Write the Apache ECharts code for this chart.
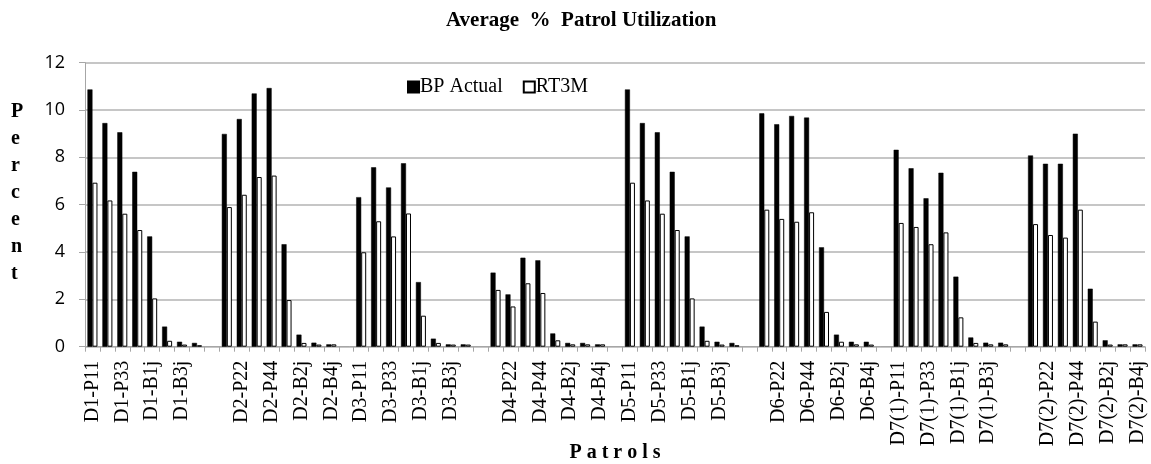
<!DOCTYPE html>
<html>
<head>
<meta charset="utf-8">
<script src="https://cdn.jsdelivr.net/npm/echarts@6/dist/echarts.min.js"></script>
<style>html,body{margin:0;padding:0;background:#fff;}#c{width:1151px;height:464px;}</style>
</head>
<body>
<div id="c"></div>
<script>
var categories = [
  'D1-P11','D1-P22','D1-P33','D1-P44','D1-B1j','D1-B2j','D1-B3j','D1-B4j','',
  'D2-P11','D2-P22','D2-P33','D2-P44','D2-B1j','D2-B2j','D2-B3j','D2-B4j','',
  'D3-P11','D3-P22','D3-P33','D3-P44','D3-B1j','D3-B2j','D3-B3j','D3-B4j','',
  'D4-P11','D4-P22','D4-P33','D4-P44','D4-B1j','D4-B2j','D4-B3j','D4-B4j','',
  'D5-P11','D5-P22','D5-P33','D5-P44','D5-B1j','D5-B2j','D5-B3j','D5-B4j','',
  'D6-P11','D6-P22','D6-P33','D6-P44','D6-B1j','D6-B2j','D6-B3j','D6-B4j','',
  'D7(1)-P11','D7(1)-P22','D7(1)-P33','D7(1)-P44','D7(1)-B1j','D7(1)-B2j','D7(1)-B3j','D7(1)-B4j','',
  'D7(2)-P11','D7(2)-P22','D7(2)-P33','D7(2)-P44','D7(2)-B1j','D7(2)-B2j','D7(2)-B3j','D7(2)-B4j'
];
var bpActual = [
  10.87, 9.45, 9.06, 7.39, 4.66, 0.85, 0.21, 0.16, null,
  8.99, 9.62, 10.70, 10.93, 4.33, 0.51, 0.17, 0.10, null,
  6.32, 7.58, 6.73, 7.75, 2.73, 0.34, 0.10, 0.10, null,
  3.13, 2.21, 3.76, 3.65, 0.56, 0.16, 0.16, 0.10, null,
  10.87, 9.45, 9.06, 7.39, 4.66, 0.85, 0.21, 0.16, null,
  9.86, 9.40, 9.75, 9.68, 4.20, 0.51, 0.21, 0.21, null,
  8.32, 7.54, 6.27, 7.35, 2.96, 0.39, 0.17, 0.17, null,
  8.08, 7.73, 7.73, 9.00, 2.45, 0.27, 0.10, 0.10
];
var rt3m = [
  6.93, 6.18, 5.62, 4.93, 2.04, 0.25, 0.09, 0.06, null,
  5.90, 6.42, 7.17, 7.23, 1.97, 0.16, 0.09, 0.10, null,
  3.99, 5.30, 4.66, 5.63, 1.31, 0.16, 0.09, 0.09, null,
  2.40, 1.70, 2.68, 2.27, 0.27, 0.10, 0.10, 0.10, null,
  6.93, 6.18, 5.62, 4.93, 2.04, 0.25, 0.09, 0.06, null,
  5.79, 5.40, 5.28, 5.68, 1.47, 0.21, 0.10, 0.09, null,
  5.23, 5.06, 4.33, 4.83, 1.24, 0.16, 0.10, 0.10, null,
  5.18, 4.72, 4.61, 5.79, 1.06, 0.09, 0.10, 0.10
];
var yTicks = [0, 2, 4, 6, 8, 10, 12];

var serif = '"Liberation Serif", "Times New Roman", serif';
var chart = echarts.init(document.getElementById('c'), null, {renderer: 'canvas'});
chart.setOption({
  animation: false,
  backgroundColor: '#fff',
  title: {
    text: 'Average  %  Patrol Utilization',
    left: 441, top: 5,
    textStyle: {fontFamily: serif, fontWeight: 'bold', fontSize: 21, color: '#000'}
  },
  legend: {
    left: 402, top: 72, icon: 'rect',
    itemWidth: 11, itemHeight: 11, itemGap: 20,
    textStyle: {fontFamily: serif, fontSize: 20, color: '#000', padding: [0, 0, 0, -4]},
    data: ['BP Actual', 'RT3M']
  },
  graphic: [{
    type: 'text', left: 11, top: 98,
    style: {text: 'P\ne\nr\nc\ne\nn\nt', fontFamily: serif, fontWeight: 'bold', fontSize: 20, lineHeight: 27, fill: '#000', align: 'center'}
  }],
  grid: {left: 85, right: 6, top: 62.7, bottom: 117.3, containLabel: false, outerBoundsMode: 'none'},
  xAxis: {
    type: 'category',
    data: categories,
    boundaryGap: true,
    name: 'P a t r o l s',
    nameLocation: 'middle',
    nameGap: 96,
    nameMoveOverlap: false,
    nameTextStyle: {fontFamily: serif, fontWeight: 'bold', fontSize: 20, color: '#000'},
    axisLine: {lineStyle: {color: '#a6a6a6', width: 1}},
    axisTick: {show: true, interval: 0, length: 5, lineStyle: {color: '#a6a6a6'}},
    axisLabel: {interval: 1, rotate: 90, margin: 14, fontFamily: serif, fontSize: 20, color: '#000'}
  },
  yAxis: {
    type: 'value',
    min: 0, max: 12, interval: 2,
    axisLine: {show: true, lineStyle: {color: '#a6a6a6', width: 1}},
    axisTick: {show: true, length: 6, lineStyle: {color: '#a6a6a6'}},
    splitLine: {show: true, lineStyle: {color: '#b3b3b3', width: 1.5}},
    axisLabel: {
      margin: 20, fontFamily: '"Open Sans", "Liberation Sans", sans-serif', fontSize: 18, color: '#000',
      formatter: function (v) { return yTicks.indexOf(v) >= 0 ? String(v) : ''; }
    }
  },
  series: [
    {name: 'BP Actual', type: 'bar', data: bpActual, barWidth: 5, barGap: '0%',
     itemStyle: {color: '#000', borderColor: '#000', borderWidth: 0.5}},
    {name: 'RT3M', type: 'bar', data: rt3m, barWidth: 5, barGap: '0%',
     itemStyle: {color: '#fff', borderColor: '#000', borderWidth: 1}}
  ]
});
</script>
</body>
</html>
